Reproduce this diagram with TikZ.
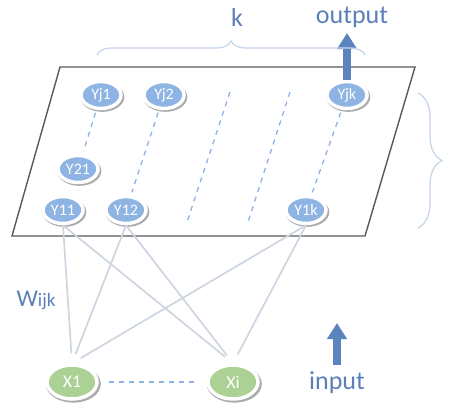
\documentclass[tikz,border=0pt]{standalone}
\usepackage{fontspec}
\setmainfont{Carlito}
\usetikzlibrary{shapes.geometric,positioning,shadows,arrows.meta,decorations.pathreplacing}
\definecolor{yfill}{HTML}{8DB4E2}
\definecolor{xfill}{HTML}{ABD194}
\definecolor{labelblue}{HTML}{5B80B8}
\definecolor{arrowblue}{HTML}{5B84BF}
\definecolor{wirecol}{HTML}{CDD5E1}
\definecolor{bracecol}{HTML}{C6D6EA}
\tikzset{>=latex}
\tikzstyle{neuron}=[ellipse,draw=white,line width=3.5pt,text=white,inner sep=0pt,
  drop shadow={shadow xshift=1.2pt,shadow yshift=-1.8pt,shadow scale=1.1,fill=black!60,opacity=.55}]
\tikzstyle{yneuron}=[neuron,fill=yfill,minimum width=40pt,minimum height=27pt,font=\fontsize{16}{16}\selectfont]
\tikzstyle{xneuron}=[neuron,fill=xfill,minimum width=50pt,minimum height=34pt,font=\fontsize{18}{18}\selectfont]
\tikzstyle{wire}=[wirecol,line width=1.7pt]
\tikzstyle{dashlink}=[yfill,dashed,dash pattern=on 5pt off 5pt,line width=1.3pt]
\tikzstyle{bigarrow}=[arrowblue,line width=8pt,-{Triangle[length=16pt,width=19pt]}]
\tikzstyle{biglabel}=[text=labelblue,font=\fontsize{26}{26}\selectfont]
\tikzstyle{curly}=[bracecol,line width=1.3pt,decorate]

\begin{document}
\begin{tikzpicture}[x=1pt,y=-1pt]
	\useasboundingbox (0,0) rectangle (454,405);
	% the layer
	\draw[gray!70!black,line width=1.4pt,fill=white] (60,67) -- (415,67) -- (365,236) -- (12,236) -- cycle;

	\node[yneuron] (yj1) at (101,95) {Yj1};
	\node[yneuron] (yj2) at (164,95) {Yj2};
	\node[yneuron] (yjk) at (347,95) {Yjk};
	\node[yneuron] (y21) at (78,169) {Y21};
	\node[yneuron] (y11) at (63,210) {Y11};
	\node[yneuron] (y12) at (126,210) {Y12};
	\node[yneuron] (y1k) at (306,210) {Y1k};
	\coordinate (colatop) at (230,92);
	\coordinate (colabot) at (187,222);
	\coordinate (colbtop) at (290,92);
	\coordinate (colbbot) at (248,222);

	\draw[dashlink,shorten <=3pt,shorten >=3pt] (yj1) -- (y21);
	\draw[dashlink,shorten <=3pt,shorten >=3pt] (yj2) -- (y12);
	\draw[dashlink] (colatop) -- (colabot);
	\draw[dashlink] (colbtop) -- (colbbot);
	\draw[dashlink,shorten <=3pt,shorten >=3pt] (yjk) -- (y1k);

	\node[xneuron] (x1) at (72,382) {X1};
	\node[xneuron] (xi) at (233,382) {Xi};
	\draw[dashlink,shorten <=10pt,shorten >=10pt] (x1) -- (xi);

	% weights
	\foreach \x in {x1,xi}
		\foreach \y in {y11,y12,y1k}
			\draw[wire,shorten <=10pt] (\x.north) -- (\y.south);

	\node[text=labelblue] (w) at (36,300) {{\fontsize{24}{24}\selectfont W}{\fontsize{19}{19}\selectfont ijk}};

	% in and out
	\coordinate (outbase) at (347,80);
	\coordinate (outtip) at (347,33);
	\draw[bigarrow] (outbase) -- (outtip);
	\node[biglabel] (output) at (352,17) {output};
	\coordinate (inbase) at (337,365);
	\coordinate (intip) at (337,323);
	\draw[bigarrow] (inbase) -- (intip);
	\node[biglabel] (input) at (337,383) {input};

	% braces
	\coordinate (ktop1) at (97,55);
	\coordinate (ktop2) at (365,55);
	\draw[curly,decoration={brace,amplitude=14pt}] (ktop1) -- (ktop2);
	\node[biglabel] (k) at (237,17) {k};
	\coordinate (jside1) at (418,93);
	\coordinate (jside2) at (418,228);
	\draw[curly,decoration={brace,amplitude=24pt}] (jside1) -- (jside2);
\end{tikzpicture}
\end{document}
